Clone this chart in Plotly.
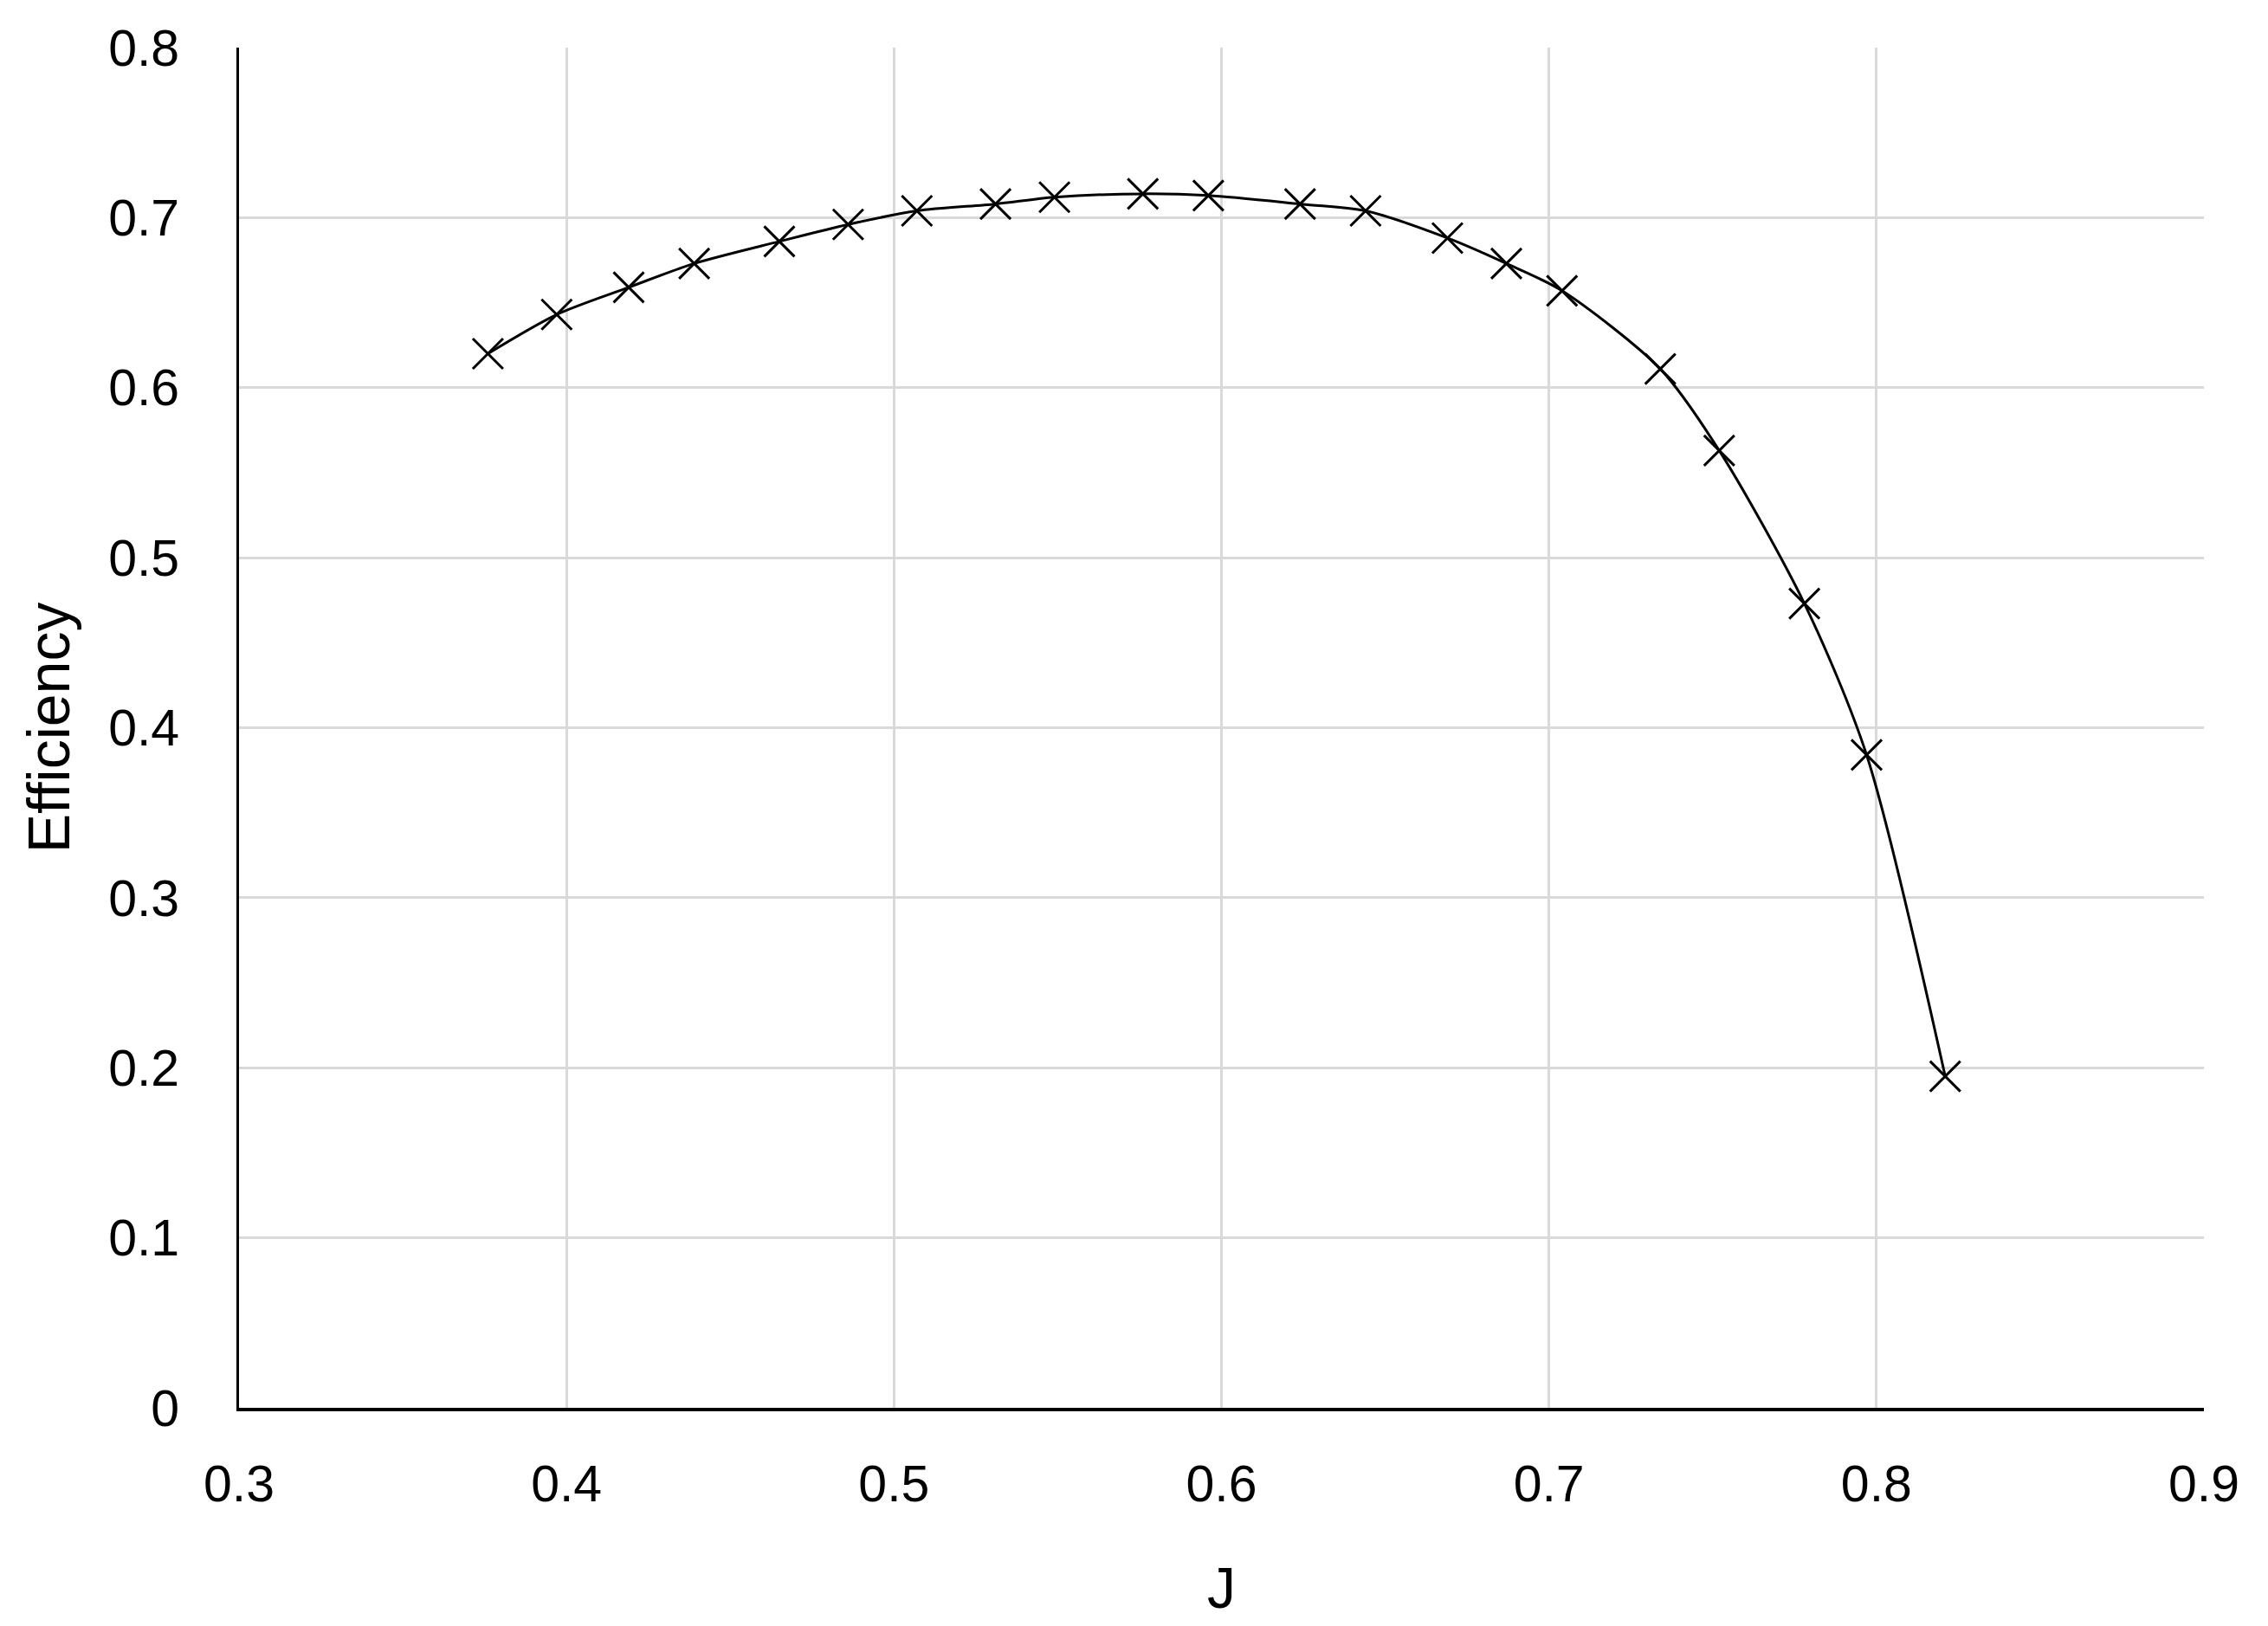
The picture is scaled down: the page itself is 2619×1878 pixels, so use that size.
import plotly.graph_objects as go

# advance ratio J and propeller efficiency
j_values = [0.376, 0.397, 0.419, 0.439, 0.465, 0.486, 0.507, 0.531, 0.549, 0.576, 0.596,
            0.624, 0.644, 0.669, 0.687, 0.704, 0.734, 0.752, 0.778, 0.797, 0.821]
efficiency = [0.620, 0.643, 0.659, 0.673, 0.686, 0.696, 0.704, 0.708, 0.712, 0.714, 0.713,
              0.708, 0.704, 0.688, 0.673, 0.657, 0.611, 0.563, 0.473, 0.384, 0.195]

x_ticks = [0.3, 0.4, 0.5, 0.6, 0.7, 0.8, 0.9]
y_ticks = [0, 0.1, 0.2, 0.3, 0.4, 0.5, 0.6, 0.7, 0.8]

FONT = "Liberation Sans"
GRID = "#d9d9d9"

fig = go.Figure()

fig.add_trace(go.Scatter(
    x=j_values,
    y=efficiency,
    mode="lines+markers",
    line=dict(color="black", width=3, shape="spline", smoothing=0.8),
    marker=dict(symbol="x-thin", size=35, line=dict(color="black", width=3)),
    showlegend=False
))

fig.update_layout(
    width=2619,
    height=1878,
    margin=dict(l=268, r=82, t=47, b=260),
    paper_bgcolor="white",
    plot_bgcolor="white",
    font=dict(family=FONT, size=59, color="black"),
    xaxis=dict(
        range=[0.3, 0.9],
        tickvals=x_ticks,
        ticktext=[str(v) for v in x_ticks],
        showgrid=True,
        gridcolor=GRID,
        gridwidth=2.5,
        zeroline=False,
        showline=True,
        linecolor="black",
        linewidth=4,
        ticks="",
        ticklabelstandoff=33,
        title=dict(text="J", font=dict(family=FONT, size=66), standoff=66),
        automargin=False
    ),
    yaxis=dict(
        range=[0, 0.8],
        tickvals=y_ticks,
        ticktext=[str(v) for v in y_ticks],
        showgrid=True,
        gridcolor=GRID,
        gridwidth=2.5,
        zeroline=False,
        showline=True,
        linecolor="black",
        linewidth=3,
        ticks="",
        ticklabelstandoff=54,
        title=dict(text="Efficiency", font=dict(family=FONT, size=68), standoff=23),
        automargin=False
    )
)

fig.write_html("out.html")
